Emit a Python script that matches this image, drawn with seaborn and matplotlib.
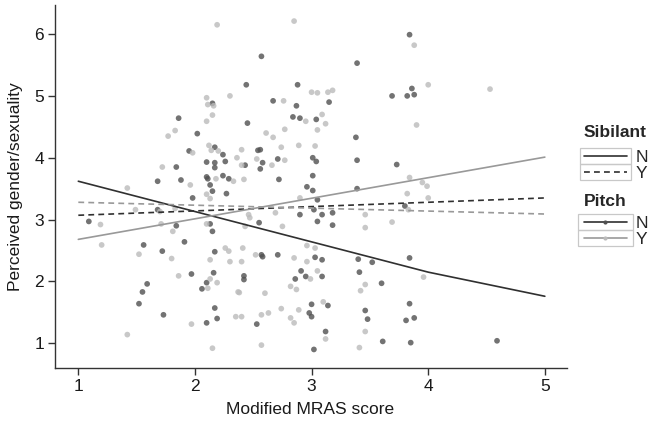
import numpy as np
import pandas as pd
import matplotlib
matplotlib.use("Agg")
import matplotlib.pyplot as plt
import seaborn as sns
from matplotlib.lines import Line2D
from matplotlib.patches import Rectangle

# ---------------- data ----------------
pitch_n_x = [2.15, 1.86, 2.02, 1.95, 2.17, 2.24, 2.10, 2.17, 2.26, 2.17, 1.84, 2.10, 2.11, 2.24, 2.29, 1.88, 1.68, 2.13,
             2.57, 3.39, 2.44, 2.88, 2.67, 2.87, 3.15, 2.45, 2.84, 2.90, 3.04, 3.38, 2.54, 2.56, 2.58, 2.71, 3.01, 3.04,
             3.39, 2.43, 2.56, 2.72, 3.01, 2.96,
             3.84, 3.86, 3.69, 3.82, 3.88, 3.73,
             2.15, 2.27, 1.98, 1.68, 1.84, 2.13, 2.15, 1.56, 1.72, 1.91, 2.17, 1.97, 2.16, 2.10, 2.06, 1.59, 1.55, 1.52,
             2.17, 1.73, 2.19, 2.10, 1.09,
             3.01, 3.05, 3.39, 2.90, 3.02, 3.09, 3.18, 3.05, 3.18, 2.55, 2.57, 2.58, 2.71, 3.03, 3.09, 3.40, 3.52, 2.91,
             2.42, 2.42, 2.86, 2.95, 3.09, 3.41, 3.00, 3.14, 2.98, 3.00, 3.46, 3.48, 2.53, 3.12, 3.02,
             3.80, 3.84, 3.60, 3.84, 3.81, 3.88, 3.61, 3.85, 4.59]
pitch_n_y = [4.88, 4.64, 4.39, 4.11, 4.17, 4.05, 3.93, 3.92, 3.94, 3.84, 3.85, 3.69, 3.66, 3.71, 3.66, 3.64, 3.62, 3.56,
             5.64, 5.53, 5.18, 5.18, 4.92, 4.84, 4.90, 4.56, 4.66, 4.64, 4.62, 4.33, 4.12, 4.13, 3.92, 3.98, 4.00, 3.94,
             3.96, 3.88, 3.82, 3.65, 3.71, 3.53,
             5.99, 5.12, 5.00, 5.00, 5.02, 3.89,
             3.46, 3.42, 3.35, 3.16, 2.90, 2.93, 2.81, 2.59, 2.49, 2.64, 2.48, 2.12, 2.14, 1.98, 1.88, 1.96, 1.83, 1.64,
             1.57, 1.46, 1.40, 1.33, 2.97,
             3.47, 3.32, 3.50, 3.08, 3.16, 3.08, 3.11, 2.97, 2.91, 2.95, 2.43, 2.40, 2.43, 2.39, 2.35, 2.36, 2.31, 2.17,
             2.03, 2.09, 2.04, 2.08, 2.08, 2.15, 1.63, 1.61, 1.49, 1.43, 1.53, 1.39, 1.31, 1.19, 0.90,
             3.22, 2.38, 1.97, 1.64, 1.37, 1.41, 1.03, 1.01, 1.04]

pitch_y_x = [2.19, 2.10, 2.16, 2.11, 2.30, 2.15, 2.10, 1.83, 1.77, 1.98, 2.12, 2.14, 2.20, 1.72, 2.18, 1.96, 1.42, 2.36, 2.33,
             2.85, 3.00, 3.05, 3.18, 3.14, 2.76, 2.95, 3.09, 3.12, 2.77, 3.05, 2.61, 2.67, 2.40, 2.74, 2.89, 3.03, 2.53,
             2.77, 2.40, 2.66, 2.42,
             3.88, 4.00, 4.53, 3.90, 3.84, 3.95, 3.99,
             2.10, 2.13, 1.70, 1.49, 1.83, 1.71, 2.10, 1.81, 1.20, 1.52, 2.26, 2.29, 2.30, 1.80, 2.13, 1.86, 2.13, 2.19,
             2.11, 2.37, 2.35, 1.97, 1.42, 2.15, 1.19,
             2.90, 2.46, 2.47, 2.69, 2.43, 2.75, 3.46, 3.46, 2.41, 2.96, 3.03, 2.52, 2.40, 2.85, 2.96, 3.05, 2.99, 3.46,
             3.42, 2.82, 2.87, 2.38, 2.60, 3.10, 2.74, 2.89, 2.40, 2.57, 2.63, 2.82, 2.85, 3.46, 3.12, 2.57, 3.41,
             3.82, 4.00, 3.83, 3.69, 3.96]
pitch_y_y = [6.15, 4.97, 4.84, 4.86, 5.00, 4.69, 4.59, 4.44, 4.35, 4.08, 4.20, 4.12, 4.11, 3.85, 3.66, 3.56, 3.51, 4.00, 3.62,
             6.21, 5.06, 5.05, 5.09, 5.06, 4.92, 4.59, 4.70, 4.55, 4.46, 4.45, 4.40, 4.33, 4.13, 4.17, 4.20, 4.19, 3.98,
             3.96, 3.88, 3.88, 3.65,
             5.82, 5.18, 5.11, 4.53, 3.68, 3.60, 3.54,
             3.41, 3.34, 3.13, 3.16, 3.18, 2.93, 2.93, 2.81, 2.59, 2.44, 2.54, 2.49, 2.32, 2.37, 2.35, 2.09, 2.04, 1.98,
             1.89, 1.83, 1.43, 1.31, 1.14, 0.92, 2.92,
             3.35, 3.08, 3.03, 3.11, 2.89, 2.89, 3.08, 2.87, 2.54, 2.58, 2.54, 2.43, 2.32, 2.38, 2.32, 2.17, 2.04, 1.95,
             1.85, 1.92, 1.87, 1.82, 1.81, 1.67, 1.56, 1.54, 1.43, 1.46, 1.49, 1.41, 1.33, 1.19, 1.07, 0.97, 0.93,
             3.42, 3.35, 3.16, 2.96, 2.07]

# fitted lines (Sibilant x Pitch)
fit_nn_x = [1, 4, 5]
fit_nn_y = [3.62, 2.15, 1.76]
fit_ny_x = [1, 5]
fit_ny_y = [2.68, 4.01]
fit_yn_x = [1, 5]
fit_yn_y = [3.07, 3.35]
fit_yy_x = [1, 5]
fit_yy_y = [3.28, 3.09]

x_ticks = [1, 2, 3, 4, 5]
y_ticks = [1, 2, 3, 4, 5, 6]
levels = ["N", "Y"]

pts = pd.DataFrame({
    "x": pitch_n_x + pitch_y_x,
    "y": pitch_n_y + pitch_y_y,
    "Pitch": ["N"] * len(pitch_n_x) + ["Y"] * len(pitch_y_x),
})
lines = pd.concat([
    pd.DataFrame({"x": fit_nn_x, "y": fit_nn_y, "Sibilant": "N", "Pitch": "N"}),
    pd.DataFrame({"x": fit_ny_x, "y": fit_ny_y, "Sibilant": "N", "Pitch": "Y"}),
    pd.DataFrame({"x": fit_yn_x, "y": fit_yn_y, "Sibilant": "Y", "Pitch": "N"}),
    pd.DataFrame({"x": fit_yy_x, "y": fit_yy_y, "Sibilant": "Y", "Pitch": "Y"}),
], ignore_index=True)

# ---------------- style ----------------
sns.set_theme(style="white")
plt.rcParams["font.family"] = ["Liberation Sans", "DejaVu Sans"]

pt_pal = {"N": "#505050", "Y": "#bbbbbb"}
ln_pal = {"N": "#303030", "Y": "#999999"}
dash_map = {"N": "", "Y": (3.5, 2.5)}

fig = plt.figure(figsize=(6.52, 4.23), dpi=100)
ax = fig.add_axes([55 / 652, 55 / 423, 512 / 652, 363 / 423])

sns.scatterplot(data=pts, x="x", y="y", hue="Pitch", palette=pt_pal, hue_order=levels,
                s=17, alpha=0.8, linewidth=0, legend=False, ax=ax, zorder=2)
sns.lineplot(data=lines, x="x", y="y", hue="Pitch", style="Sibilant", palette=ln_pal,
             dashes=dash_map, hue_order=levels, style_order=levels, linewidth=1.2,
             errorbar=None, sort=True, legend=False, ax=ax, zorder=3)

ax.set_xlim(0.80, 5.19)
ax.set_ylim(0.60, 6.47)
ax.set_xticks(x_ticks)
ax.set_yticks(y_ticks)
for s in ["top", "right"]:
    ax.spines[s].set_visible(False)
for s in ["left", "bottom"]:
    ax.spines[s].set_color("#333333")
    ax.spines[s].set_linewidth(1.0)
ax.tick_params(axis="both", direction="out", length=5, width=1.0, color="#333333",
               labelsize=12.5, labelcolor="#1a1a1a", pad=3, left=True, bottom=True)
ax.set_xlabel("Modified MRAS score", fontsize=12.5, color="#1a1a1a")
ax.set_ylabel("Perceived gender/sexuality", fontsize=12.5, color="#1a1a1a")
ax.xaxis.set_label_coords(0.499, -0.094)
ax.yaxis.set_label_coords(-0.062, 0.5)

# ---------------- legends ----------------
lw_leg = 1.2
sib_handles = [Line2D([], [], color="#303030", lw=lw_leg, ls="-"),
               Line2D([], [], color="#303030", lw=lw_leg, ls=(0, (3.5, 2.5)))]
pitch_handles = [Line2D([], [], color=ln_pal["N"], lw=lw_leg, marker="o", ms=3,
                        mfc=pt_pal["N"], mec="none"),
                 Line2D([], [], color=ln_pal["Y"], lw=lw_leg, marker="o", ms=3,
                        mfc=pt_pal["Y"], mec="none")]

common = dict(loc="upper left", frameon=False, fontsize=12.5, handlelength=2.45,
              handletextpad=0.55, labelspacing=0.05, borderpad=0, borderaxespad=0,
              alignment="left", title_fontproperties={"weight": "bold", "size": 12.5})
leg1 = fig.legend(sib_handles, levels, title="Sibilant",
                  bbox_to_anchor=(584 / 652, 1 - 125 / 423), **common)
leg2 = fig.legend(pitch_handles, levels, title="Pitch",
                  bbox_to_anchor=(584 / 652, 1 - 194 / 423), **common)
leg1._legend_box.sep = 7
leg2._legend_box.sep = 5

fig.canvas.draw()
renderer = fig.canvas.get_renderer()
inv = fig.transFigure.inverted()
for lg in (leg1, leg2):
    hs = lg.legend_handles
    exts = [h.get_window_extent(renderer) for h in hs]
    cys = [(e.y0 + e.y1) / 2 for e in exts]
    pitch = abs(cys[0] - cys[1])
    for e, cy in zip(exts, cys):
        x0, x1 = e.x0 - 4, e.x1 + 4
        y0, y1 = cy - pitch / 2, cy + pitch / 2
        (fx0, fy0) = inv.transform((x0, y0))
        (fx1, fy1) = inv.transform((x1, y1))
        fig.patches.append(Rectangle((fx0, fy0), fx1 - fx0, fy1 - fy0, transform=fig.transFigure,
                                     fill=False, edgecolor="#c8c8c8", lw=0.9, figure=fig))

fig.savefig("out.png", dpi=100)
